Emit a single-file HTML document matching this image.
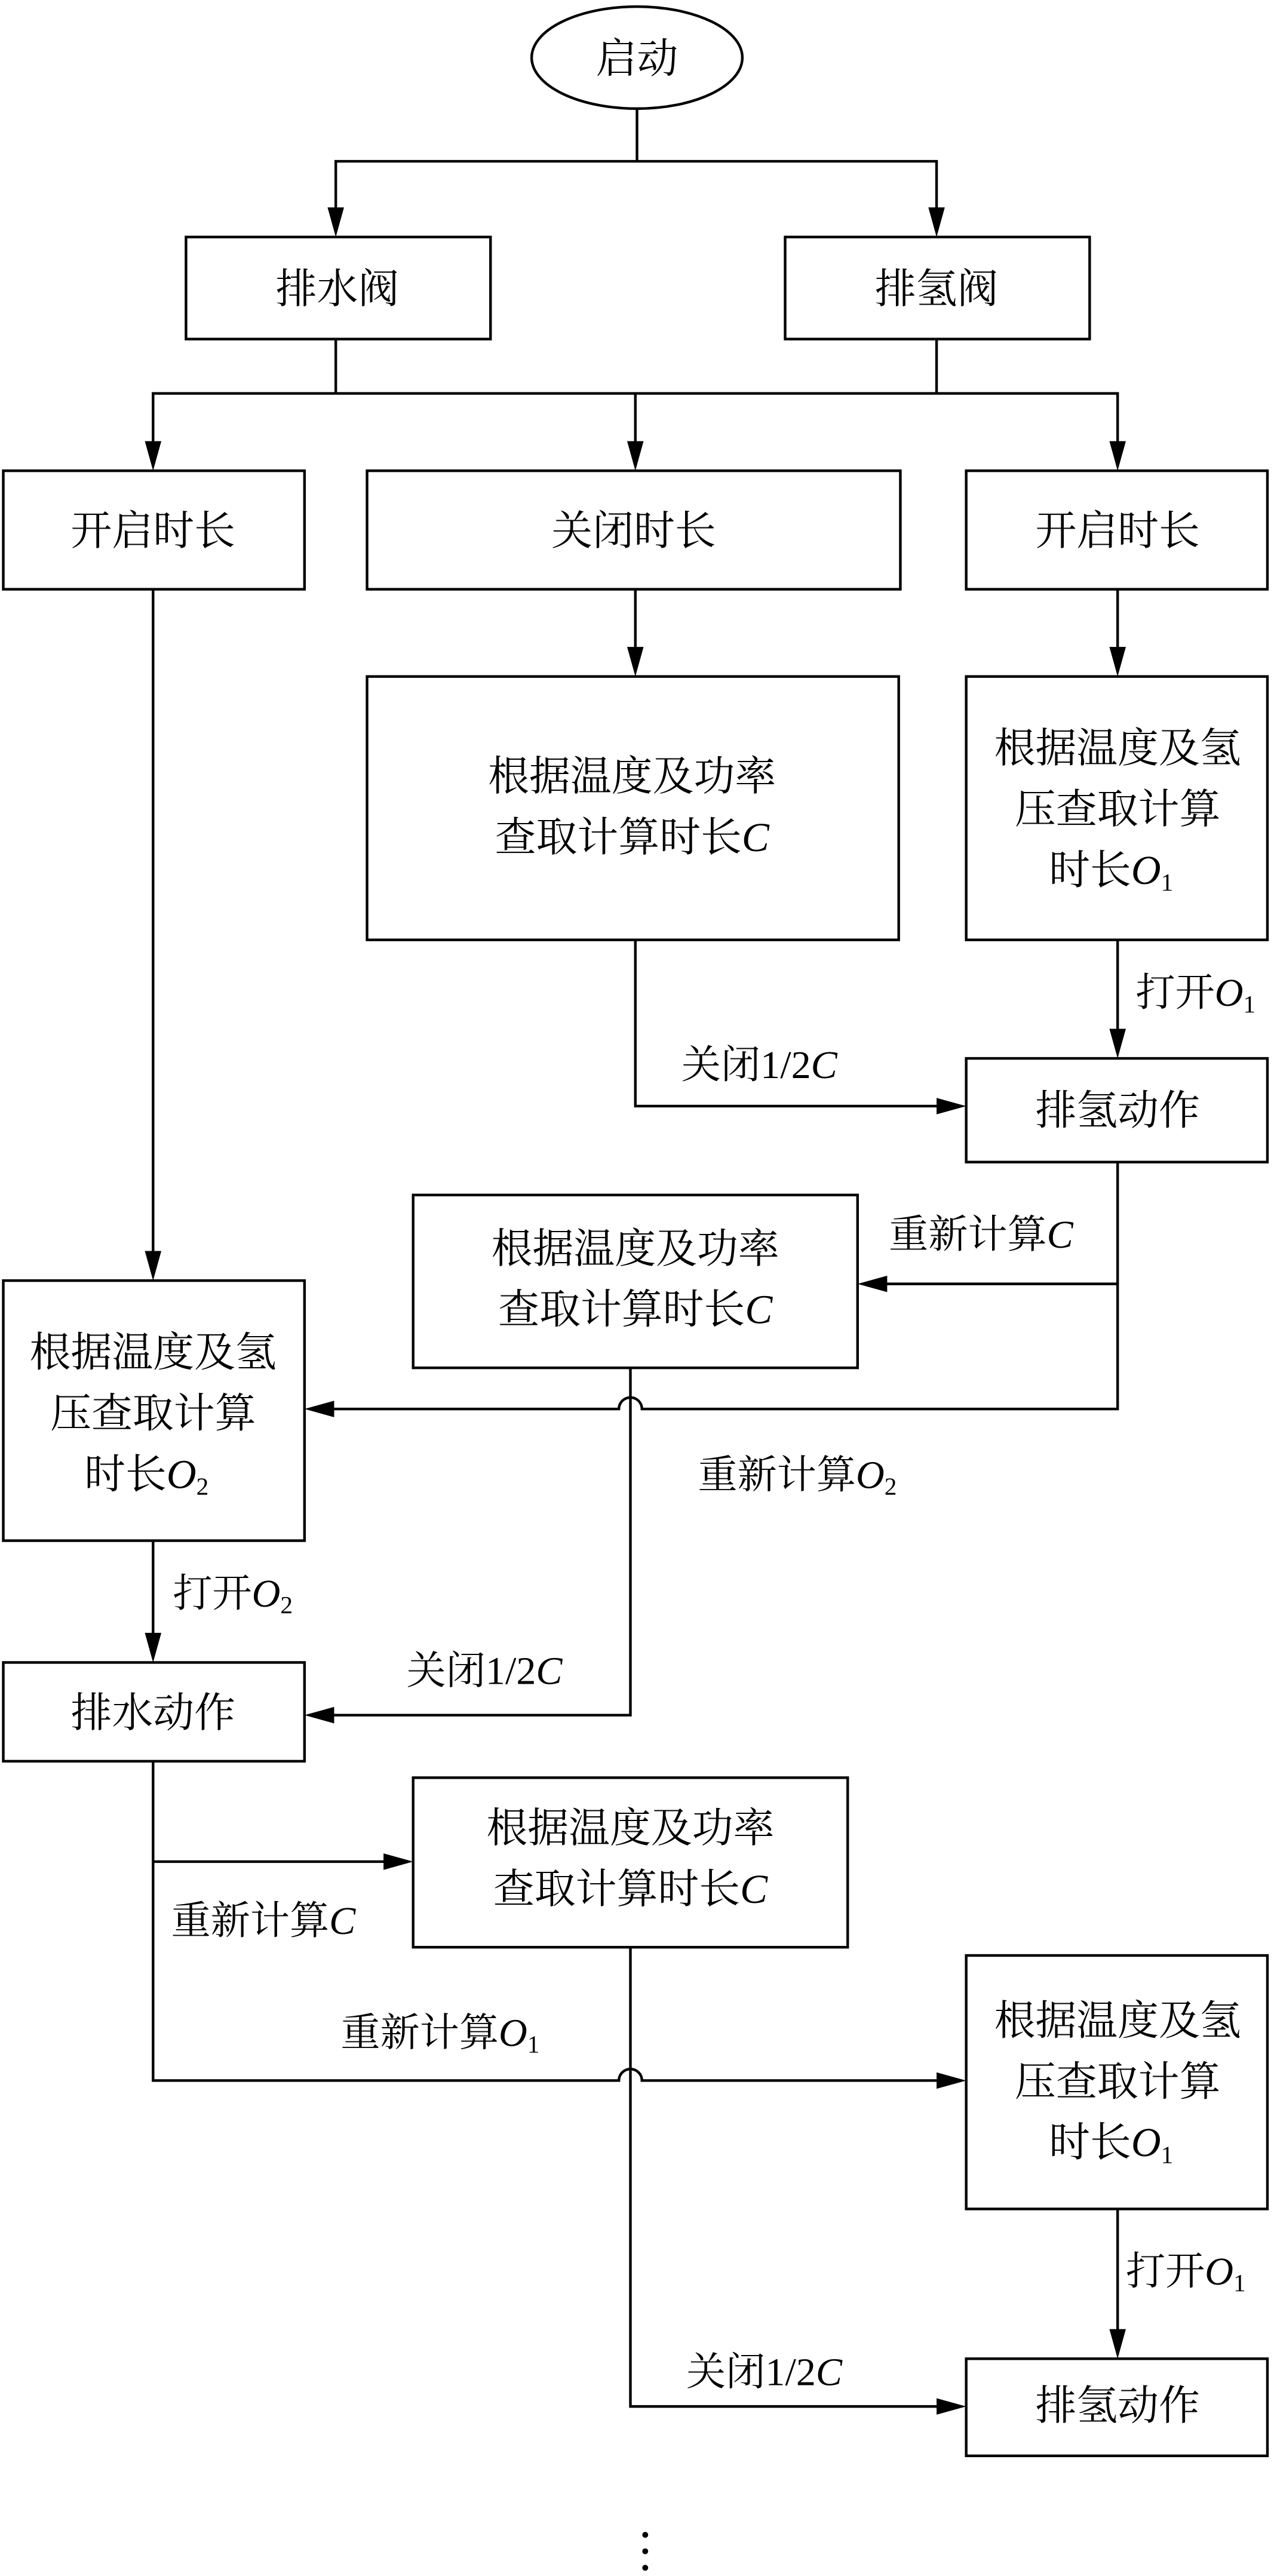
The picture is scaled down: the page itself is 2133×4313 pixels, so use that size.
<!DOCTYPE html>
<html><head><meta charset="utf-8"><style>
html,body{margin:0;padding:0;background:#fff;}
svg{display:block;}
text{font-family:"Liberation Serif","Noto Serif CJK SC",serif;font-size:25px;fill:#000;}
.l{font-size:24px;}
.i{font-style:italic;font-family:"Liberation Serif",serif;}
.s{font-size:15px;font-family:"Liberation Serif",serif;}
</style></head><body>
<svg width="2133" height="4313" viewBox="0 0 774 1565" preserveAspectRatio="none" xmlns="http://www.w3.org/2000/svg">
<g fill="none" stroke="#000" stroke-width="1.6">
<ellipse cx="387" cy="35" rx="64" ry="31"/>
<rect x="113" y="144" width="185" height="62"/>
<rect x="477" y="144" width="185" height="62"/>
<rect x="2" y="286" width="183" height="72"/>
<rect x="223" y="286" width="324" height="72"/>
<rect x="587" y="286" width="183" height="72"/>
<rect x="223" y="411" width="323" height="160"/>
<rect x="587" y="411" width="183" height="160"/>
<rect x="587" y="643" width="183" height="63"/>
<rect x="251" y="726" width="270" height="105"/>
<rect x="2" y="778" width="183" height="158"/>
<rect x="2" y="1010" width="183" height="60"/>
<rect x="251" y="1080" width="264" height="103"/>
<rect x="587" y="1188" width="183" height="154"/>
<rect x="587" y="1433" width="183" height="59"/>
<path d="M387 66V98M204 127V98H569V127"/>
<path d="M204 206V239M569 206V239M93 268V239H679V268M386 239V268"/>
<path d="M93 358V761"/>
<path d="M386 358V394M679 358V394"/>
<path d="M679 571V626"/>
<path d="M386 571V672H570"/>
<path d="M679 706V856H390A7 7 0 0 0 376 856H202"/>
<path d="M679 780H538"/>
<path d="M383 831V1042H202"/>
<path d="M93 936V993"/>
<path d="M93 1070V1264H376A7 7 0 0 1 390 1264H570"/>
<path d="M93 1131H234"/>
<path d="M383 1183V1462H570"/>
<path d="M679 1342V1416"/>
</g>
<g fill="#000">
<polygon points="199,126 209,126 204,144"/>
<polygon points="564,126 574,126 569,144"/>
<polygon points="88,268 98,268 93,286"/>
<polygon points="381,268 391,268 386,286"/>
<polygon points="674,268 684,268 679,286"/>
<polygon points="381,393 391,393 386,411"/>
<polygon points="674,393 684,393 679,411"/>
<polygon points="674,625 684,625 679,643"/>
<polygon points="569,667 569,677 587,672"/>
<polygon points="539,775 539,785 521,780"/>
<polygon points="203,851 203,861 185,856"/>
<polygon points="88,760 98,760 93,778"/>
<polygon points="88,992 98,992 93,1010"/>
<polygon points="203,1037 203,1047 185,1042"/>
<polygon points="233,1126 233,1136 251,1131"/>
<polygon points="569,1259 569,1269 587,1264"/>
<polygon points="674,1415 684,1415 679,1433"/>
<polygon points="569,1457 569,1467 587,1462"/>
<circle cx="392" cy="1540" r="1.8"/><circle cx="392" cy="1550" r="1.8"/><circle cx="392" cy="1560" r="1.8"/>
</g>
<g text-anchor="middle">
<text x="387" y="44">启动</text>
<text x="205" y="184">排水阀</text>
<text x="569" y="184">排氢阀</text>
<text x="93" y="331">开启时长</text>
<text x="385" y="331">关闭时长</text>
<text x="679" y="331">开启时长</text>
<text x="384" y="480">根据温度及功率</text>
<text x="384" y="517">查取计算时长<tspan class="i">C</tspan></text>
<text x="679" y="463">根据温度及氢</text>
<text x="679" y="500">压查取计算</text>
<text x="675" y="537">时长<tspan class="i">O</tspan><tspan class="s" dy="4">1</tspan></text>
<text x="679" y="683">排氢动作</text>
<text x="386" y="767">根据温度及功率</text>
<text x="386" y="804">查取计算时长<tspan class="i">C</tspan></text>
<text x="93" y="830">根据温度及氢</text>
<text x="93" y="867">压查取计算</text>
<text x="89" y="904">时长<tspan class="i">O</tspan><tspan class="s" dy="4">2</tspan></text>
<text x="93" y="1049">排水动作</text>
<text x="383" y="1119">根据温度及功率</text>
<text x="383" y="1156">查取计算时长<tspan class="i">C</tspan></text>
<text x="679" y="1236">根据温度及氢</text>
<text x="679" y="1273">压查取计算</text>
<text x="675" y="1310">时长<tspan class="i">O</tspan><tspan class="s" dy="4">1</tspan></text>
<text x="679" y="1470">排氢动作</text>
</g>
<g>
<text class="l" x="690" y="611">打开<tspan class="i">O</tspan><tspan class="s" dy="4">1</tspan></text>
<text class="l" x="414" y="655">关闭1/2<tspan class="i">C</tspan></text>
<text class="l" x="540" y="758">重新计算<tspan class="i">C</tspan></text>
<text class="l" x="424" y="904">重新计算<tspan class="i">O</tspan><tspan class="s" dy="4">2</tspan></text>
<text class="l" x="105" y="976">打开<tspan class="i">O</tspan><tspan class="s" dy="4">2</tspan></text>
<text class="l" x="247" y="1023">关闭1/2<tspan class="i">C</tspan></text>
<text class="l" x="104" y="1175">重新计算<tspan class="i">C</tspan></text>
<text class="l" x="207" y="1243">重新计算<tspan class="i">O</tspan><tspan class="s" dy="4">1</tspan></text>
<text class="l" x="684" y="1388">打开<tspan class="i">O</tspan><tspan class="s" dy="4">1</tspan></text>
<text class="l" x="417" y="1449">关闭1/2<tspan class="i">C</tspan></text>
</g>
</svg>
</body></html>
